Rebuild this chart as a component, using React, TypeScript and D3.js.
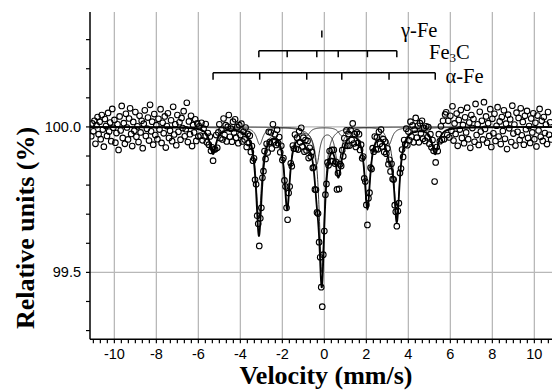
import { useEffect, useRef } from "react";
import * as d3 from "d3";

// measured spectrum: [velocity (mm/s), relative units (%)]
const spectrum: [number, number][] = [
  [-11.1, 99.968], [-11.05, 100.012], [-11.0, 99.985], [-10.95, 100.021], [-10.9, 99.942],
  [-10.85, 100.006], [-10.8, 100.034], [-10.75, 99.975], [-10.7, 100.018], [-10.65, 99.958],
  [-10.6, 100.041], [-10.55, 99.991], [-10.5, 99.932], [-10.45, 100.027], [-10.4, 100.003],
  [-10.35, 99.969], [-10.3, 100.048], [-10.25, 99.984], [-10.2, 100.015], [-10.15, 99.951],
  [-10.1, 100.062], [-10.05, 99.997], [-10.0, 100.024], [-9.95, 99.946], [-9.9, 99.979],
  [-9.85, 100.009], [-9.8, 99.921], [-9.75, 100.036], [-9.7, 99.988], [-9.65, 100.072],
  [-9.6, 99.962], [-9.55, 100.013], [-9.5, 99.942], [-9.45, 100.045], [-9.4, 99.998],
  [-9.35, 99.957], [-9.3, 100.029], [-9.25, 100.064], [-9.2, 99.976], [-9.15, 99.934],
  [-9.1, 100.017], [-9.05, 99.987], [-9.0, 100.051], [-8.95, 99.966], [-8.9, 100.002],
  [-8.85, 99.948], [-8.8, 100.038], [-8.75, 99.981], [-8.7, 100.021], [-8.65, 99.927],
  [-8.6, 100.011], [-8.55, 100.057], [-8.5, 99.969], [-8.45, 99.994], [-8.4, 100.032],
  [-8.35, 99.953], [-8.3, 100.076], [-8.25, 99.985], [-8.2, 100.018], [-8.15, 99.939],
  [-8.1, 100.044], [-8.05, 99.972], [-8.0, 100.006], [-7.95, 99.958], [-7.9, 100.028],
  [-7.85, 99.991], [-7.8, 100.061], [-7.75, 99.945], [-7.7, 100.014], [-7.65, 99.978],
  [-7.6, 100.036], [-7.55, 99.929], [-7.5, 100.003], [-7.45, 100.047], [-7.4, 99.962],
  [-7.35, 99.987], [-7.3, 100.023], [-7.25, 99.951], [-7.2, 100.069], [-7.15, 99.974],
  [-7.1, 100.009], [-7.05, 99.937], [-7.0, 100.041], [-6.95, 99.983], [-6.9, 100.016],
  [-6.85, 99.956], [-6.8, 100.031], [-6.75, 99.996], [-6.7, 100.054], [-6.65, 99.968],
  [-6.6, 99.992], [-6.55, 100.083], [-6.5, 99.948], [-6.45, 100.019], [-6.4, 99.975],
  [-6.35, 100.038], [-6.3, 99.934], [-6.25, 100.007], [-6.2, 99.981], [-6.15, 100.026],
  [-6.1, 99.952], [-6.05, 100.012], [-6.0, 99.967], [-5.95, 100.002], [-5.9, 99.97],
  [-5.85, 100.014], [-5.8, 99.954], [-5.75, 99.994], [-5.7, 99.968], [-5.65, 100.01],
  [-5.6, 99.947], [-5.55, 99.979], [-5.5, 99.939], [-5.45, 99.967], [-5.4, 99.918],
  [-5.35, 99.93], [-5.3, 99.884], [-5.25, 99.923], [-5.2, 99.923], [-5.15, 99.972],
  [-5.1, 99.928], [-5.05, 99.981], [-5.0, 100.009], [-4.95, 99.961], [-4.9, 99.989],
  [-4.85, 99.957], [-4.8, 100.029], [-4.75, 99.972], [-4.7, 100.006], [-4.65, 99.95],
  [-4.6, 100.001], [-4.55, 100.041], [-4.5, 99.966], [-4.45, 99.994], [-4.4, 99.949],
  [-4.35, 100.018], [-4.3, 99.981], [-4.25, 100.026], [-4.2, 99.963], [-4.15, 99.999],
  [-4.1, 99.944], [-4.05, 100.006], [-4.0, 99.972], [-3.95, 100.011], [-3.9, 99.95],
  [-3.85, 99.983], [-3.8, 99.957], [-3.75, 99.998], [-3.7, 99.931], [-3.65, 99.976],
  [-3.6, 99.945], [-3.55, 99.97], [-3.5, 99.914], [-3.45, 99.934], [-3.4, 99.884],
  [-3.35, 99.892], [-3.3, 99.818], [-3.25, 99.803], [-3.2, 99.695], [-3.15, 99.667],
  [-3.1, 99.591], [-3.05, 99.686], [-3.0, 99.722], [-2.95, 99.825], [-2.9, 99.848],
  [-2.85, 99.917], [-2.8, 99.89], [-2.75, 99.942], [-2.7, 99.912], [-2.65, 99.983],
  [-2.6, 99.948], [-2.55, 99.981], [-2.5, 99.926], [-2.45, 100.009], [-2.4, 99.947],
  [-2.35, 99.974], [-2.3, 99.938], [-2.25, 99.99], [-2.2, 99.944], [-2.15, 99.965],
  [-2.1, 99.913], [-2.05, 99.935], [-2.0, 99.886], [-1.95, 99.893], [-1.9, 99.816],
  [-1.85, 99.795], [-1.8, 99.722], [-1.75, 99.681], [-1.7, 99.773], [-1.65, 99.795],
  [-1.6, 99.875], [-1.55, 99.865], [-1.5, 99.936], [-1.45, 99.925], [-1.4, 99.974],
  [-1.35, 99.925], [-1.3, 99.963], [-1.25, 99.922], [-1.2, 99.985], [-1.15, 99.947],
  [-1.1, 99.997], [-1.05, 99.933], [-1.0, 99.963], [-0.95, 99.915], [-0.9, 99.955],
  [-0.85, 99.919], [-0.8, 99.952], [-0.75, 99.893], [-0.7, 99.928], [-0.65, 99.898],
  [-0.6, 99.914], [-0.55, 99.859], [-0.5, 99.861], [-0.45, 99.785], [-0.4, 99.784],
  [-0.35, 99.706], [-0.3, 99.702], [-0.25, 99.604], [-0.2, 99.552], [-0.15, 99.449],
  [-0.1, 99.382], [-0.05, 99.561], [0.0, 99.642], [0.05, 99.767], [0.1, 99.804],
  [0.15, 99.878], [0.2, 99.868], [0.25, 99.917], [0.3, 99.883], [0.35, 99.921],
  [0.4, 99.882], [0.45, 99.921], [0.5, 99.874], [0.55, 99.88], [0.6, 99.785],
  [0.65, 99.841], [0.7, 99.787], [0.75, 99.872], [0.8, 99.866], [0.85, 99.92],
  [0.9, 99.899], [0.95, 99.961], [1.0, 99.936], [1.05, 99.988], [1.1, 99.935],
  [1.15, 99.976], [1.2, 99.936], [1.25, 99.989], [1.3, 99.955], [1.35, 100.012],
  [1.4, 99.943], [1.45, 99.975], [1.5, 99.931], [1.55, 99.981], [1.6, 99.945],
  [1.65, 99.975], [1.7, 99.921], [1.75, 99.939], [1.8, 99.892], [1.85, 99.898],
  [1.9, 99.823], [1.95, 99.812], [2.0, 99.732], [2.05, 99.663], [2.1, 99.755],
  [2.15, 99.774], [2.2, 99.86], [2.25, 99.855], [2.3, 99.927], [2.35, 99.915],
  [2.4, 99.967], [2.45, 99.923], [2.5, 99.964], [2.55, 99.923], [2.6, 99.983],
  [2.65, 99.942], [2.7, 99.991], [2.75, 99.933], [2.8, 99.958], [2.85, 99.914],
  [2.9, 99.949], [2.95, 99.908], [3.0, 99.926], [3.05, 99.872], [3.1, 99.887],
  [3.15, 99.847], [3.2, 99.873], [3.25, 99.821], [3.3, 99.819], [3.35, 99.731],
  [3.4, 99.708], [3.45, 99.659], [3.5, 99.711], [3.55, 99.738], [3.6, 99.842],
  [3.65, 99.857], [3.7, 99.922], [3.75, 99.897], [3.8, 99.955], [3.85, 99.94],
  [3.9, 99.994], [3.95, 99.937], [4.0, 99.984], [4.05, 99.954], [4.1, 100.018],
  [4.15, 99.967], [4.2, 100.005], [4.25, 99.947], [4.3, 99.991], [4.35, 100.031],
  [4.4, 99.963], [4.45, 100.004], [4.5, 99.947], [4.55, 100.013], [4.6, 99.978],
  [4.65, 100.021], [4.7, 99.959], [4.75, 99.996], [4.8, 99.952], [4.85, 100.002],
  [4.9, 99.964], [4.95, 99.999], [5.0, 99.942], [5.05, 99.975], [5.1, 99.93],
  [5.15, 99.955], [5.2, 99.918], [5.25, 99.812], [5.3, 99.878], [5.35, 99.931],
  [5.4, 99.917], [5.45, 99.975], [5.5, 99.951], [5.55, 100.002], [5.6, 99.956],
  [5.65, 100.021], [5.7, 99.958], [5.75, 100.043], [5.8, 100.05], [5.85, 99.972],
  [5.9, 100.021], [5.95, 99.964], [6.0, 100.038], [6.05, 99.987], [6.1, 100.071],
  [6.15, 99.953], [6.2, 100.012], [6.25, 99.976], [6.3, 100.046], [6.35, 99.935],
  [6.4, 100.024], [6.45, 99.991], [6.5, 100.058], [6.55, 99.962], [6.6, 100.007],
  [6.65, 99.944], [6.7, 100.033], [6.75, 99.981], [6.8, 100.066], [6.85, 99.958],
  [6.9, 100.015], [6.95, 99.928], [7.0, 100.041], [7.05, 99.996], [7.1, 100.027],
  [7.15, 99.949], [7.2, 100.079], [7.25, 99.972], [7.3, 100.009], [7.35, 99.938],
  [7.4, 100.052], [7.45, 99.984], [7.5, 100.021], [7.55, 99.957], [7.6, 100.085],
  [7.65, 99.993], [7.7, 100.036], [7.75, 99.946], [7.8, 100.013], [7.85, 99.969],
  [7.9, 100.061], [7.95, 99.931], [8.0, 100.028], [8.05, 99.978], [8.1, 100.045],
  [8.15, 99.952], [8.2, 100.004], [8.25, 100.068], [8.3, 99.967], [8.35, 100.019],
  [8.4, 99.941], [8.45, 100.034], [8.5, 99.986], [8.55, 100.057], [8.6, 99.959],
  [8.65, 100.011], [8.7, 99.924], [8.75, 100.042], [8.8, 99.995], [8.85, 100.026],
  [8.9, 99.948], [8.95, 100.073], [9.0, 99.977], [9.05, 100.008], [9.1, 99.936],
  [9.15, 100.049], [9.2, 99.983], [9.25, 100.031], [9.3, 99.955], [9.35, 100.064],
  [9.4, 99.971], [9.45, 100.017], [9.5, 99.939], [9.55, 100.038], [9.6, 99.992],
  [9.65, 100.055], [9.7, 99.962], [9.75, 100.003], [9.8, 99.945], [9.85, 100.029],
  [9.9, 99.981], [9.95, 100.047], [10.0, 99.958], [10.05, 100.014], [10.1, 99.933],
  [10.15, 100.039], [10.2, 99.988], [10.25, 100.062], [10.3, 99.966], [10.35, 100.021],
  [10.4, 99.952], [10.45, 100.034], [10.5, 99.979], [10.55, 100.008], [10.6, 99.941],
  [10.65, 100.051], [10.7, 99.973], [10.75, 100.016], [10.8, 99.957],
];

// fitted sub-spectra: line positions (mm/s), line depths (%), half widths (mm/s)
const alphaFeLines = [-5.3, -3.08, -0.84, 0.83, 3.08, 5.28];
const alphaFeDepths = [0.09, 0.06, 0.03, 0.03, 0.06, 0.09];
const alphaFeWidth = 0.18;
const fe3cLines = [-3.12, -1.77, -0.36, 0.66, 2.05, 3.45];
const fe3cDepths = [0.31, 0.27, 0.12, 0.13, 0.27, 0.31];
const fe3cWidth = 0.16;
const gammaFeLines = [-0.12];
const gammaFeDepths = [0.5];
const gammaFeWidth = 0.15;

const xTickLabels = [-10, -8, -6, -4, -2, 0, 2, 4, 6, 8, 10];
const yTickLabels = [99.5, 100.0];

const width = 552;
const height = 391;

function lorentz(v, lines, depths, w) {
  let a = 0;
  lines.forEach((p, i) => {
    const d = (v - p) / w;
    a += depths[i] / (1 + d * d);
  });
  return a;
}

export default function App() {
  const svgRef = useRef(null);

  useEffect(() => {
    const svg = d3.select(svgRef.current);
    svg.selectAll("*").remove();

    const x = d3.scaleLinear().domain([-11.16, 10.84]).range([90, 552]);
    const y = d3.scaleLinear().domain([99.27, 100.395]).range([339.3, 12]);
    const [x0, x1] = x.range();
    const [yb, yt] = y.range();

    const sans = "'Liberation Sans', Arial, Helvetica, sans-serif";
    const serif = "'Liberation Serif', 'Times New Roman', Times, serif";

    svg.append("defs").append("clipPath").attr("id", "plot")
      .append("rect").attr("x", x0).attr("y", yt).attr("width", x1 - x0).attr("height", yb - yt);

    // grid
    svg.append("g").selectAll("line").data(xTickLabels).join("line")
      .attr("x1", (d) => x(d)).attr("x2", (d) => x(d))
      .attr("y1", yt).attr("y2", yb)
      .attr("stroke", "#b8b8b8").attr("stroke-width", 1.3);
    svg.append("g").selectAll("line").data(yTickLabels).join("line")
      .attr("x1", x0).attr("x2", x1)
      .attr("y1", (d) => y(d)).attr("y2", (d) => y(d))
      .attr("stroke", "#b8b8b8").attr("stroke-width", 1.3);

    // fit curves
    const vs = d3.range(-11.16, 10.85, 0.01);
    const line = d3.line().x((d) => x(d[0])).y((d) => y(d[1]));
    const plot = svg.append("g").attr("clip-path", "url(#plot)");
    const comps = [
      [alphaFeLines, alphaFeDepths, alphaFeWidth],
      [fe3cLines, fe3cDepths, fe3cWidth],
      [gammaFeLines, gammaFeDepths, gammaFeWidth],
    ];
    comps.forEach(([l, dp, w]) => {
      plot.append("path")
        .attr("d", line(vs.map((v) => [v, 100 - lorentz(v, l, dp, w)])))
        .attr("fill", "none").attr("stroke", "#222").attr("stroke-width", 0.9);
    });
    const total = vs.map((v) => [
      v,
      100 - comps.reduce((s, [l, dp, w]) => s + lorentz(v, l, dp, w), 0),
    ]);
    plot.append("path").attr("d", line(total))
      .attr("fill", "none").attr("stroke", "#000").attr("stroke-width", 1.8);

    // data points
    plot.append("g").selectAll("circle").data(spectrum).join("circle")
      .attr("cx", (d) => x(d[0])).attr("cy", (d) => y(d[1])).attr("r", 2.8)
      .attr("fill", "none").attr("stroke", "#000").attr("stroke-width", 1.1);

    // axes
    const ax = svg.append("g").attr("stroke", "#000");
    ax.append("line").attr("x1", x0).attr("x2", x1).attr("y1", yb).attr("y2", yb).attr("stroke-width", 1.5);
    ax.append("line").attr("x1", x0).attr("x2", x0).attr("y1", yt).attr("y2", yb).attr("stroke-width", 1.5);
    const xMinor = d3.range(-33, 33).map((i) => i / 3).filter((v) => x(v) >= x0 && x(v) <= x1);
    ax.selectAll(".xt").data(xMinor).join("line")
      .attr("x1", (d) => x(d)).attr("x2", (d) => x(d))
      .attr("y1", yb).attr("y2", yb + 4).attr("stroke-width", 1.2);
    const yMinor = d3.range(993, 1004).map((i) => i / 10);
    ax.selectAll(".yt").data(yMinor).join("line")
      .attr("x1", x0 - 4).attr("x2", x0)
      .attr("y1", (d) => y(d)).attr("y2", (d) => y(d)).attr("stroke-width", 1.2);

    svg.append("g").selectAll("text").data(xTickLabels).join("text")
      .attr("x", (d) => x(d)).attr("y", 358.5)
      .attr("text-anchor", "middle").attr("font-family", sans).attr("font-size", 14.5)
      .text((d) => String(d));
    svg.append("g").selectAll("text").data(yTickLabels).join("text")
      .attr("x", 81).attr("y", (d) => y(d) + 5)
      .attr("text-anchor", "end").attr("font-family", sans).attr("font-size", 14.5)
      .text((d) => d.toFixed(1));

    // axis titles
    svg.append("text").attr("x", 326).attr("y", 384)
      .attr("text-anchor", "middle").attr("font-family", serif)
      .attr("font-weight", "bold").attr("font-size", 26)
      .text("Velocity (mm/s)");
    svg.append("text").attr("transform", "translate(34,228) rotate(-90)")
      .attr("text-anchor", "middle").attr("font-family", serif)
      .attr("font-weight", "bold").attr("font-size", 26)
      .text("Relative units (%)");

    // phase line markers
    const br = svg.append("g").attr("stroke", "#000").attr("stroke-width", 1.5);
    const bracket = (lines, yy, tick) => {
      if (lines.length > 1) {
        br.append("line").attr("x1", x(d3.min(lines))).attr("x2", x(d3.max(lines)))
          .attr("y1", yy).attr("y2", yy);
      }
      lines.forEach((p) => {
        br.append("line").attr("x1", x(p)).attr("x2", x(p))
          .attr("y1", yy).attr("y2", yy + tick);
      });
    };
    bracket(gammaFeLines, 30.5, 7);
    bracket(fe3cLines, 50.7, 6.5);
    bracket(alphaFeLines, 72.7, 7);

    const lab = svg.append("g").attr("font-family", serif).attr("font-size", 20.5);
    lab.append("text").attr("x", 401).attr("y", 36.5).text("γ-Fe");
    const fe = lab.append("text").attr("x", 429).attr("y", 58.5);
    fe.append("tspan").text("Fe");
    fe.append("tspan").attr("font-size", 13).attr("dy", 3.5).text("3");
    fe.append("tspan").attr("dy", -3.5).text("C");
    lab.append("text").attr("x", 445.5).attr("y", 83).text("α-Fe");
  }, []);

  return (
    <svg
      ref={svgRef}
      width={width}
      height={height}
      style={{ position: "absolute", left: 0, top: 0, background: "#fff" }}
    ></svg>
  );
}
